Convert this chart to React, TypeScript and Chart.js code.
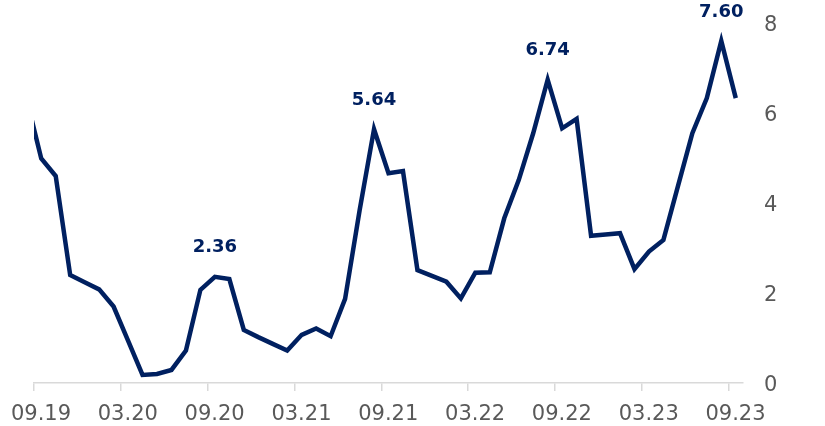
import React, { useEffect, useRef } from "react";
import { Chart, registerables } from "chart.js";

Chart.register(...registerables);

const months = [
  "08.19", "09.19", "10.19", "11.19", "12.19",
  "01.20", "02.20", "03.20", "04.20", "05.20", "06.20", "07.20", "08.20", "09.20", "10.20", "11.20", "12.20",
  "01.21", "02.21", "03.21", "04.21", "05.21", "06.21", "07.21", "08.21", "09.21", "10.21", "11.21", "12.21",
  "01.22", "02.22", "03.22", "04.22", "05.22", "06.22", "07.22", "08.22", "09.22", "10.22", "11.22", "12.22",
  "01.23", "02.23", "03.23", "04.23", "05.23", "06.23", "07.23", "08.23", "09.23",
];

const values = [
  6.3, 4.99, 4.6, 2.4, 2.24,
  2.08, 1.7, 0.94, 0.18, 0.2, 0.29, 0.72, 2.07, 2.36, 2.31, 1.18, 1.02,
  0.87, 0.72, 1.07, 1.21, 1.04, 1.87, 3.83, 5.64, 4.66, 4.71, 2.51, 2.38,
  2.25, 1.88, 2.45, 2.46, 3.66, 4.51, 5.55, 6.74, 5.66, 5.87, 3.27, 3.3,
  3.33, 2.53, 2.92, 3.18, 4.37, 5.55, 6.33, 7.6, 6.33,
];

const labelledMonths = ["09.20", "08.21", "08.22", "08.23"];

const xTickLabels = ["09.19", "03.20", "09.20", "03.21", "09.21", "03.22", "09.22", "03.23", "09.23"];
const yTicks = [0, 2, 4, 6, 8];

const NAVY = "#002060";
const GREY = "#595959";
const AXIS = "#d9d9d9";
const FONT = "'DejaVu Sans', Verdana, sans-serif";

const firstTickIndex = months.indexOf(xTickLabels[0]);

const peakLabels = {
  id: "peakLabels",
  afterDatasetsDraw(chart: any) {
    const meta = chart.getDatasetMeta(0);
    const ctx = chart.ctx;
    ctx.save();
    ctx.font = `bold 18px ${FONT}`;
    ctx.fillStyle = NAVY;
    ctx.textAlign = "center";
    ctx.textBaseline = "middle";
    labelledMonths.forEach((m) => {
      const i = months.indexOf(m);
      const el = meta.data[i];
      if (!el) return;
      ctx.fillText(values[i].toFixed(2), el.x, el.y - 29);
    });
    ctx.restore();
  },
};

export default function App() {
  const ref = useRef<HTMLCanvasElement | null>(null);

  useEffect(() => {
    if (!ref.current) return;
    const data = values.map((v, i) => ({ x: i - firstTickIndex + 0.5, y: v }));
    const tickPos = xTickLabels.map((l) => months.indexOf(l) - firstTickIndex);
    const chart = new Chart(ref.current, {
      type: "line",
      data: {
        datasets: [
          {
            data,
            borderColor: NAVY,
            borderWidth: 4.5,
            pointRadius: 0,
            tension: 0,
            fill: false,
            clip: { left: 0, right: 10, top: 30, bottom: 10 } as any,
          },
        ],
      },
      options: {
        animation: false,
        responsive: false,
        layout: { padding: { left: 34, top: 23, right: 0, bottom: 0 } },
        plugins: {
          legend: { display: false },
          tooltip: { enabled: false },
        },
        scales: {
          x: {
            type: "linear",
            min: 0,
            max: 49,
            afterBuildTicks: (scale: any) => {
              scale.ticks = tickPos.map((v) => ({ value: v }));
            },
            afterFit: (scale: any) => {
              scale.height = 43;
              scale.paddingLeft = 0;
              scale.paddingRight = 0;
            },
            ticks: {
              autoSkip: false,
              maxRotation: 0,
              padding: 11,
              labelOffset: 7,
              color: GREY,
              font: { family: FONT, size: 21 },
              callback: (v: any) => months[Number(v) + firstTickIndex],
            },
            grid: {
              drawOnChartArea: false,
              drawTicks: true,
              tickLength: 8,
              color: AXIS,
              lineWidth: 1.5,
            },
            border: { display: true, color: AXIS, width: 1.5 },
          },
          y: {
            position: "right",
            min: 0,
            max: 8,
            afterBuildTicks: (scale: any) => {
              scale.ticks = yTicks.map((v) => ({ value: v }));
            },
            afterFit: (scale: any) => {
              scale.width = 82;
              scale.paddingTop = 0;
              scale.paddingBottom = 0;
            },
            ticks: {
              padding: 21,
              labelOffset: 3,
              crossAlign: "near",
              color: GREY,
              font: { family: FONT, size: 21 },
              callback: (v: any) => String(v),
            },
            grid: { display: false, drawTicks: false },
            border: { display: false },
          },
        },
      },
      plugins: [peakLabels],
    });
    return () => chart.destroy();
  }, []);

  return (
    <div style={{ position: "fixed", left: 0, top: 0, width: 825, height: 426, background: "#fff" }}>
      <canvas ref={ref} width={825} height={426} />
    </div>
  );
}
